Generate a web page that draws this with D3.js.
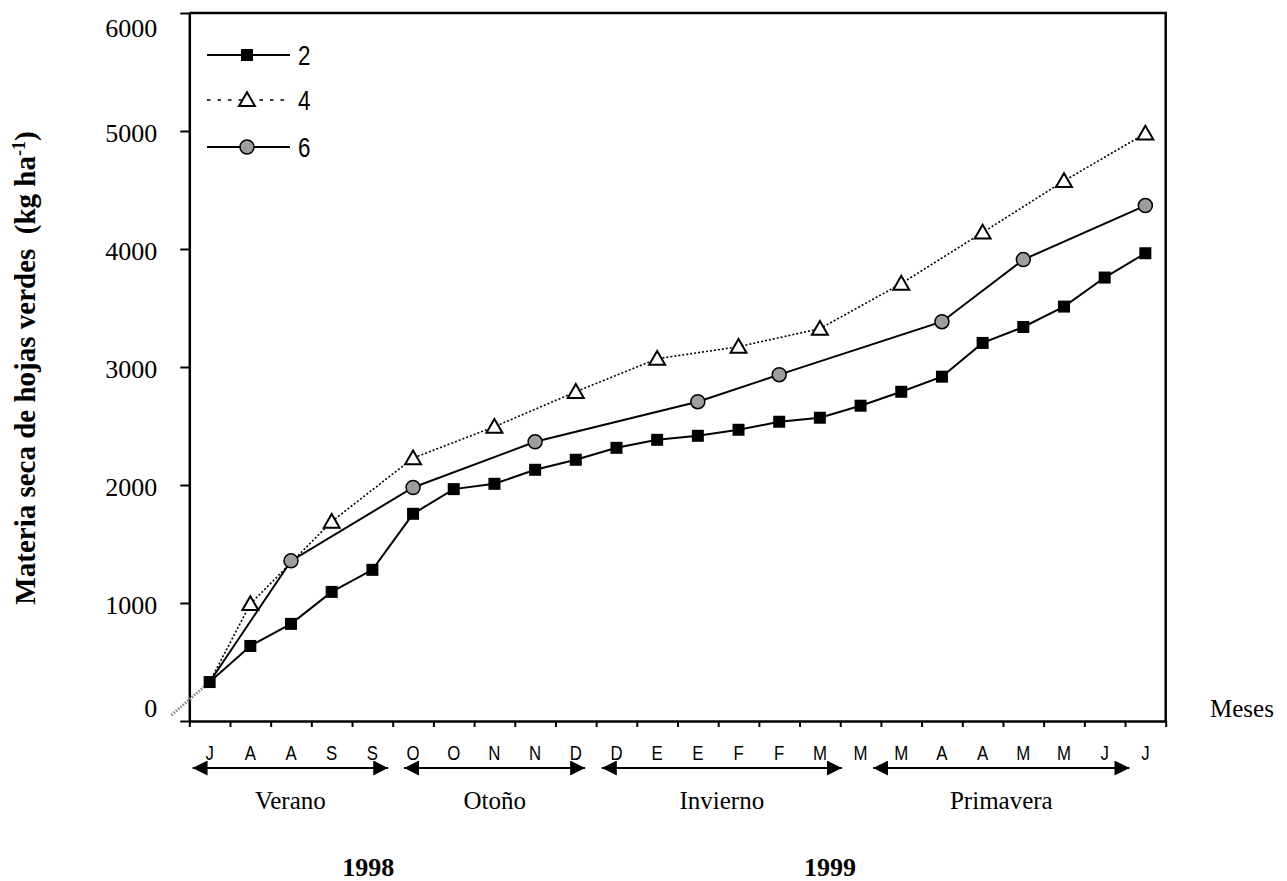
<!DOCTYPE html>
<html>
<head>
<meta charset="utf-8">
<script src="https://cdn.jsdelivr.net/npm/d3@7"></script>
<style>
  html, body { margin: 0; padding: 0; background: #fff; }
  svg { display: block; }
</style>
</head>
<body>
<div id="chart"></div>
<script>
// Half-month periods Jul 1998 – Jun 1999
const months = ["J","A","A","S","S","O","O","N","N","D","D","E","E","F","F","M","M","M","A","A","M","M","J","J"];
const yTicks = [0, 1000, 2000, 3000, 4000, 5000, 6000];
const seriesNames = ["2", "4", "6"];

// Series "2": every period
const idx2 = d3.range(24);
const val2 = [330, 636, 823, 1094, 1281, 1756, 1965, 2010, 2129, 2214, 2315, 2383,
              2417, 2468, 2536, 2570, 2672, 2790, 2918, 3204, 3339, 3512, 3758, 3964];
// Series "4"
const idx4 = [0, 1, 3, 5, 7, 9, 11, 13, 15, 17, 19, 21, 23];
const val4 = [330, 992, 1690, 2228, 2494, 2790, 3070, 3172, 3325, 3707, 4140, 4577, 4979];
// Series "6"
const idx6 = [0, 2, 5, 8, 12, 14, 18, 20, 23];
const val6 = [330, 1357, 1979, 2366, 2706, 2935, 3384, 3910, 4368];

// Seasons (extent in period units) and years
const seasons = ["Verano", "Otoño", "Invierno", "Primavera"];
const seasonFrom = [0.08, 5.28, 10.14, 16.81];
const seasonTo = [4.89, 9.73, 16.04, 23.11];
const years = ["1998", "1999"];
const yearAt = [4.4, 15.75];

const W = 1287, H = 881;
const plot = { left: 189.3, right: 1165.7, top: 13, bottom: 721 };
const serif = "'Liberation Serif','Times New Roman',serif";
const sans = "'Liberation Sans',Arial,sans-serif";

const svg = d3.select("#chart").append("svg")
  .attr("width", W)
  .attr("height", H)
  .style("background", "#fff");

const x = d3.scaleLinear().domain([0, 24]).range([plot.left, plot.right]);
const y = d3.scaleLinear().domain([0, 6000]).range([plot.bottom, plot.top]);

// frame top + right
svg.append("path")
  .attr("d", `M${plot.left},${plot.top}H${plot.right}V${plot.bottom}`)
  .attr("fill", "none")
  .attr("stroke", "#000")
  .attr("stroke-width", 2.5);

// Y axis
const yAxis = svg.append("g")
  .attr("transform", `translate(${plot.left},0)`)
  .call(d3.axisLeft(y).tickValues(yTicks).tickSize(9).tickSizeOuter(0).tickFormat(d3.format("d")));
yAxis.select(".domain").attr("stroke-width", 2.5);
yAxis.selectAll(".tick line").attr("stroke-width", 2);
yAxis.selectAll(".tick text")
  .attr("x", -32)
  .attr("dy", d => d === 6000 ? "0.92em" : d === 0 ? "-0.16em" : "0.42em")
  .attr("font-family", serif)
  .attr("font-size", 26)
  .attr("fill", "#000");

// X axis
const xAxis = svg.append("g")
  .attr("transform", `translate(0,${plot.bottom})`)
  .call(d3.axisBottom(x).tickValues(d3.range(25)).tickSize(6).tickSizeOuter(0).tickFormat(""));
xAxis.select(".domain").attr("stroke-width", 2.5);
xAxis.selectAll(".tick line").attr("stroke-width", 2);

// month labels (narrow font)
svg.append("g").selectAll("text")
  .data(months)
  .join("text")
  .attr("transform", (d, i) => `translate(${x(i + 0.5)},760) scale(0.8,1)`)
  .attr("text-anchor", "middle")
  .attr("font-family", sans)
  .attr("font-size", 21)
  .attr("fill", "#000")
  .text(d => d);

// season arrows
svg.append("defs").append("marker")
  .attr("id", "ah")
  .attr("viewBox", "0 0 10 10")
  .attr("refX", 10).attr("refY", 5)
  .attr("markerWidth", 15).attr("markerHeight", 15)
  .attr("markerUnits", "userSpaceOnUse")
  .attr("orient", "auto-start-reverse")
  .append("path")
  .attr("d", "M0,0L10,5L0,10Z")
  .attr("fill", "#000");

const seasonG = svg.append("g");
seasons.forEach((s, i) => {
  seasonG.append("line")
    .attr("x1", x(seasonFrom[i])).attr("x2", x(seasonTo[i]))
    .attr("y1", 768).attr("y2", 768)
    .attr("stroke", "#000")
    .attr("stroke-width", 2)
    .attr("marker-start", "url(#ah)")
    .attr("marker-end", "url(#ah)");
  seasonG.append("text")
    .attr("x", (x(seasonFrom[i]) + x(seasonTo[i])) / 2)
    .attr("y", 809)
    .attr("text-anchor", "middle")
    .attr("font-family", serif)
    .attr("font-size", 25)
    .text(s);
});

svg.append("g").selectAll("text")
  .data(years)
  .join("text")
  .attr("x", (d, i) => x(yearAt[i]))
  .attr("y", 876)
  .attr("text-anchor", "middle")
  .attr("font-family", serif)
  .attr("font-weight", "bold")
  .attr("font-size", 26)
  .text(d => d);

svg.append("text")
  .attr("x", 1210)
  .attr("y", 717)
  .attr("font-family", serif)
  .attr("font-size", 25)
  .text("Meses");

// Y title
const yt = svg.append("text")
  .attr("transform", "translate(35,368) rotate(-90)")
  .attr("text-anchor", "middle")
  .attr("font-family", serif)
  .attr("font-weight", "bold")
  .attr("font-size", 29)
  .style("white-space", "pre");
yt.append("tspan").text("Materia seca de hojas verdes  (kg ha");
yt.append("tspan").attr("baseline-shift", "super").attr("font-size", 18).text("-1");
yt.append("tspan").text(")");

// small start segment from origin
svg.append("line")
  .attr("x1", x(-0.44)).attr("y1", y(50))
  .attr("x2", x(0.5)).attr("y2", y(val2[0]))
  .attr("stroke", "#888")
  .attr("stroke-width", 3)
  .attr("stroke-dasharray", "1.5,1.5");

const line = d3.line().x(d => x(d.i + 0.5)).y(d => y(d.v));
const pts = (idx, val) => idx.map((i, k) => ({ i, v: val[k] }));
const d2 = pts(idx2, val2), d4 = pts(idx4, val4), d6 = pts(idx6, val6);

svg.append("path").datum(d4).attr("d", line)
  .attr("fill", "none").attr("stroke", "#000").attr("stroke-width", 1.6).attr("stroke-dasharray", "2,2");
svg.append("path").datum(d6).attr("d", line)
  .attr("fill", "none").attr("stroke", "#000").attr("stroke-width", 2);
svg.append("path").datum(d2).attr("d", line)
  .attr("fill", "none").attr("stroke", "#000").attr("stroke-width", 2);

const tri = d3.symbol().type(d3.symbolTriangle).size(110);

function drawTri(g, cx, cy) {
  g.append("path").attr("d", tri()).attr("transform", `translate(${cx},${cy + 1.5})`)
    .attr("fill", "#fff").attr("stroke", "#000").attr("stroke-width", 2);
}
function drawCirc(g, cx, cy) {
  g.append("circle").attr("cx", cx).attr("cy", cy).attr("r", 7)
    .attr("fill", "#9d9d9d").attr("stroke", "#000").attr("stroke-width", 1.5);
}
function drawSq(g, cx, cy) {
  g.append("rect").attr("x", cx - 6).attr("y", cy - 6).attr("width", 12).attr("height", 12)
    .attr("fill", "#000");
}

const mk = svg.append("g");
d4.slice(1).forEach(d => drawTri(mk, x(d.i + 0.5), y(d.v)));
d6.slice(1).forEach(d => drawCirc(mk, x(d.i + 0.5), y(d.v)));
d2.forEach(d => drawSq(mk, x(d.i + 0.5), y(d.v)));

// legend
const lg = svg.append("g");
const legendY = [55, 100, 147];
const drawers = [drawSq, drawTri, drawCirc];
seriesNames.forEach((name, i) => {
  lg.append("line")
    .attr("x1", 207).attr("x2", 290)
    .attr("y1", legendY[i]).attr("y2", legendY[i])
    .attr("stroke", "#000")
    .attr("stroke-width", i === 1 ? 1.6 : 2)
    .attr("stroke-dasharray", i === 1 ? "3.5,7" : null);
  drawers[i](lg, 247, legendY[i]);
  lg.append("text")
    .attr("transform", `translate(298,${legendY[i] + 10}) scale(0.8,1)`)
    .attr("font-family", sans)
    .attr("font-size", 28)
    .text(name);
});
</script>
</body>
</html>
